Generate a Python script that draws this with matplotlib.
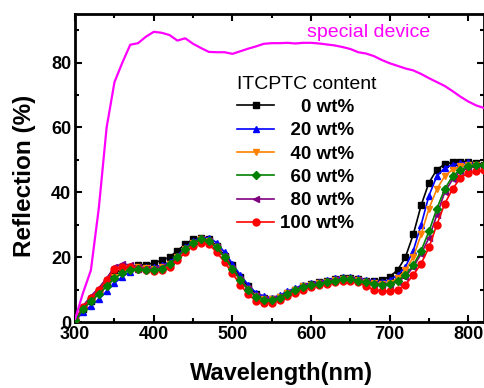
import numpy as np
import matplotlib
matplotlib.use('Agg')
import matplotlib.pyplot as plt
from matplotlib.ticker import MultipleLocator

plt.rcParams['font.family'] = ['Liberation Sans', 'DejaVu Sans']

# wavelength grid (nm) of the marked series
wl = np.arange(300, 821, 10)

r0 = [0.5, 4, 6.5, 9.5, 12, 15, 16.5, 17, 17.5, 17.7, 18.2, 19, 20, 22, 24, 25.5, 26, 25.5, 23.5, 20.5,
      17.5, 14, 11, 8.5, 7.3, 7, 7.8, 9, 10, 11, 11.8, 12.2, 12.6, 13.2, 13.6, 13.6, 13.2, 12.8, 12.6, 13,
      14, 16, 20, 27, 36, 43, 47, 48.7, 49.2, 49.5, 49.5, 49, 48.5]
r20 = [0.5, 3, 5, 7, 9.5, 12, 14, 15.5, 16.5, 17, 17, 17.5, 18.5, 20.5, 23, 25, 26, 26, 24.5, 21.5,
       18, 14.5, 11.5, 9, 8, 7.5, 8.2, 9.5, 10.5, 11.5, 12, 12.5, 13, 13.5, 14, 13.8, 13.5, 13, 12.8, 12.5,
       13, 14.5, 17, 22, 30, 39, 45, 47.5, 48.5, 49, 49.2, 48.8, 48.3]
r40 = [0.5, 4, 6.5, 9, 11.5, 14, 15.5, 16.5, 17, 16.8, 16.5, 17, 18, 20, 22.5, 24.5, 25.5, 25, 23, 20,
       16.5, 13, 10.3, 8, 7, 7, 7.8, 9, 10, 11, 11.5, 12, 12.5, 13, 13.3, 13.3, 13, 12.5, 12, 11.8,
       12, 13.5, 16, 20, 27, 35, 41, 45, 47, 48, 48.5, 48.5, 48]
r60 = [0.5, 4, 6.5, 8.5, 11, 13.5, 15, 16, 16.5, 16, 16, 16.5, 18, 20, 22.5, 24.5, 25.5, 25, 23, 20,
       16.5, 13, 10, 7.8, 6.8, 6.8, 7.5, 8.8, 9.8, 10.8, 11.3, 11.8, 12.3, 12.8, 13.2, 13.2, 12.8, 12.2, 11.8, 11.5,
       11.8, 12.8, 14.5, 17.5, 22, 28, 35, 41, 45, 47, 48, 48.5, 48.5]
r80 = [0.5, 5, 8, 10.5, 13.5, 17, 18, 17.5, 17, 16.5, 16.5, 17, 18, 20, 22.5, 24.5, 25.5, 25, 23, 20,
       16.5, 13, 10.3, 8, 7, 7, 7.8, 9, 10, 11, 11.5, 12, 12.5, 13, 13.4, 13.4, 13, 12.3, 11.8, 11.5,
       11.5, 12.5, 14, 17, 21, 26, 33, 40, 44, 46.5, 47.5, 48, 48]
r100 = [0.5, 4.5, 7.5, 10, 13, 16.5, 17, 17, 16.5, 16, 15.8, 16.2, 17, 19, 21.5, 23.5, 24.5, 24, 21.5, 18.5,
        15, 11.5, 8.5, 6.5, 5.8, 5.8, 6.8, 8, 9, 10, 10.8, 11.3, 11.8, 12.3, 12.8, 12.8, 12.3, 11, 10, 9.5,
        9.5, 10, 11.5, 14.5, 18, 23, 30, 36.5, 41, 44.5, 46, 46.5, 46.8]

# special device curve
sp = [1, 9, 16, 35, 60, 74, 80, 85.5, 86, 88, 89.5, 89.2, 88.5, 86.8, 87.5, 85.8, 84.5, 83.3, 83.2, 83.2,
      82.7, 83.5, 84.3, 85, 85.8, 86, 86, 86.1, 85.9, 86.1, 86.1, 85.9, 85.6, 85.3, 84.8, 84.2, 83.2, 82.8, 82, 80.8,
      79.8, 79, 78.2, 77.6, 76.5, 75.2, 74, 72.8, 71.2, 69.5, 68, 66.8, 66]

# two spaces = one digit width in Arial-metric bold, so labels line up on the right
labels = ['    0 wt%', '  20 wt%', '  40 wt%', '  60 wt%', '  80 wt%', '100 wt%']
colors = ['black', '#0000ff', '#ff8000', '#008000', '#800080', '#ff0000']
markers = ['s', '^', 'v', 'D', '<', 'o']
series = [r0, r20, r40, r60, r80, r100]
zords = [3, 4, 5, 8, 6, 7]

fig = plt.figure(figsize=(4.85, 3.88), dpi=100)
ax = fig.add_axes([0.155, 0.17, 0.843, 0.794])

for s, c, m, lab, z in zip(series, colors, markers, labels, zords):
    ms = 4.5 if m == 'D' else 5
    ax.plot(wl, s, color=c, marker=m, markersize=ms, linewidth=1.2, label=lab, zorder=z)

ax.plot(wl, sp, color='#ff00ff', linewidth=1.6, zorder=9)
ax.text(595, 87.8, 'special device', color='#ff00ff', fontsize=14, va='baseline')

ax.set_xlim(300, 820)
ax.set_ylim(0, 95)
ax.xaxis.set_major_locator(MultipleLocator(100))
ax.xaxis.set_minor_locator(MultipleLocator(50))
ax.yaxis.set_major_locator(MultipleLocator(20))
ax.yaxis.set_minor_locator(MultipleLocator(10))
ax.tick_params(which='both', direction='in', width=1.5, top=True, right=True)
ax.tick_params(which='major', length=5, labelsize=13, pad=3)
ax.tick_params(which='minor', length=3)
for lb in ax.get_xticklabels() + ax.get_yticklabels():
    lb.set_fontweight('bold')
for sp_ in ax.spines.values():
    sp_.set_linewidth(2)

ax.set_xlabel('Wavelength(nm)', fontsize=17, fontweight='bold')
ax.set_ylabel('Reflection (%)', fontsize=17.5, fontweight='bold')
ax.xaxis.set_label_coords(0.504, -0.13)
ax.yaxis.set_label_coords(-0.095, 0.476)

leg = ax.legend(loc='upper left', bbox_to_anchor=(0.397, 0.80), frameon=False,
                title='ITCPTC content', title_fontsize=14, handlelength=1.95,
                handletextpad=0.3, labelspacing=0.33, borderaxespad=0, borderpad=0,
                prop={'size': 13.5, 'weight': 'bold'}, alignment='left')

fig.savefig('out.png', dpi=100)
